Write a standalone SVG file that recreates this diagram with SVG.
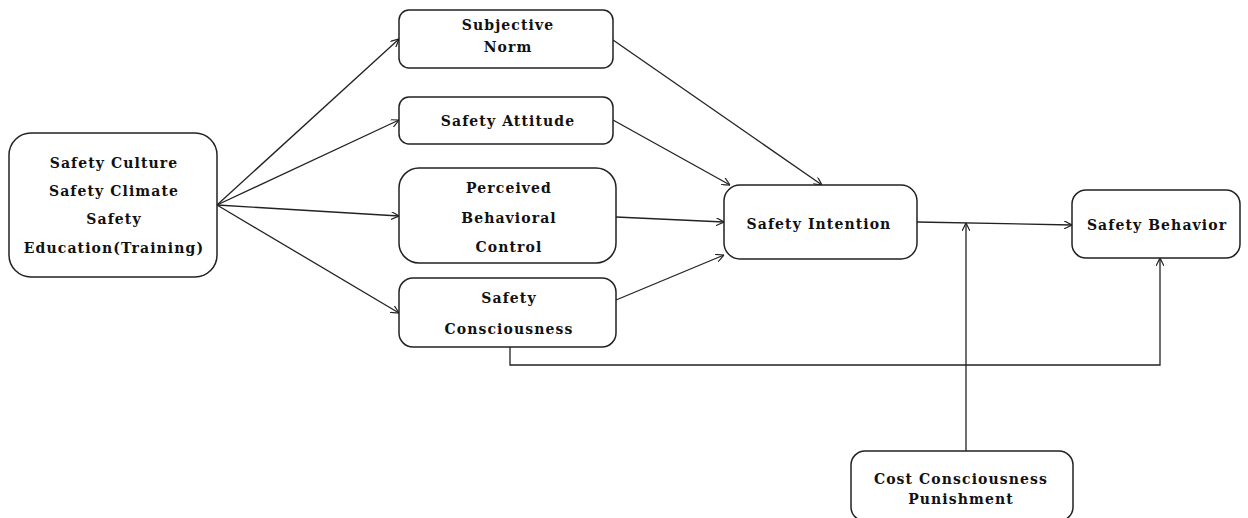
<svg xmlns="http://www.w3.org/2000/svg" width="1248" height="518" viewBox="0 0 1248 518">
<style>
.box{fill:#fff;stroke:#222;stroke-width:1.5}
.t{font-family:"DejaVu Serif",serif;font-weight:bold;font-size:14px;letter-spacing:1.1px;fill:#111;text-anchor:middle}
.c{fill:none;stroke:#222;stroke-width:1.3}
</style>
<defs>
<marker id="a" viewBox="0 0 10 10" refX="10" refY="5" markerWidth="8" markerHeight="8" orient="auto" markerUnits="userSpaceOnUse">
<path d="M0,0 L10,5 L0,10" fill="none" stroke="#222" stroke-width="1.5"/>
</marker>
</defs>
<rect width="1248" height="518" fill="#fff"/>
<g id="connectors">
<line class="c" x1="217" y1="205" x2="399" y2="39" marker-end="url(#a)"/>
<line class="c" x1="217" y1="205" x2="399" y2="120" marker-end="url(#a)"/>
<line class="c" x1="217" y1="205" x2="399" y2="216" marker-end="url(#a)"/>
<line class="c" x1="217" y1="205" x2="399" y2="313" marker-end="url(#a)"/>
<line class="c" x1="613" y1="40" x2="822" y2="185" marker-end="url(#a)"/>
<line class="c" x1="613" y1="120" x2="730" y2="185" marker-end="url(#a)"/>
<line class="c" x1="616" y1="217" x2="724" y2="222" marker-end="url(#a)"/>
<line class="c" x1="616" y1="300" x2="724" y2="255" marker-end="url(#a)"/>
<line class="c" x1="917" y1="222" x2="1072" y2="225" marker-end="url(#a)"/>
<line class="c" x1="966" y1="451" x2="966" y2="223" marker-end="url(#a)"/>
<polyline class="c" points="510,347 510,365 1160,365 1160,258" marker-end="url(#a)"/>
</g>
<g id="n1"><rect class="box" x="9" y="133" width="208" height="144" rx="22"/>
<text class="t" x="114" y="168">Safety Culture</text>
<text class="t" x="114" y="196">Safety Climate</text>
<text class="t" x="114" y="224">Safety</text>
<text class="t" x="114" y="253">Education(Training)</text></g>
<g id="n2"><rect class="box" x="399" y="10" width="214" height="58" rx="10"/>
<text class="t" x="508" y="30">Subjective</text>
<text class="t" x="508" y="52">Norm</text></g>
<g id="n3"><rect class="box" x="399" y="97" width="214" height="47" rx="10"/>
<text class="t" x="508" y="126">Safety Attitude</text></g>
<g id="n4"><rect class="box" x="399" y="168" width="217" height="95" rx="20"/>
<text class="t" x="509" y="193">Perceived</text>
<text class="t" x="509" y="223">Behavioral</text>
<text class="t" x="509" y="252">Control</text></g>
<g id="n5"><rect class="box" x="399" y="278" width="217" height="69" rx="14"/>
<text class="t" x="509" y="303">Safety</text>
<text class="t" x="509" y="334">Consciousness</text></g>
<g id="n6"><rect class="box" x="724" y="185" width="193" height="74" rx="16"/>
<text class="t" x="819" y="229">Safety Intention</text></g>
<g id="n7"><rect class="box" x="1072" y="190" width="168" height="68" rx="14"/>
<text class="t" x="1157" y="230">Safety Behavior</text></g>
<g id="n8"><rect class="box" x="851" y="451" width="222" height="70" rx="14"/>
<text class="t" x="961" y="484">Cost Consciousness</text>
<text class="t" x="961" y="504">Punishment</text></g>
</svg>
